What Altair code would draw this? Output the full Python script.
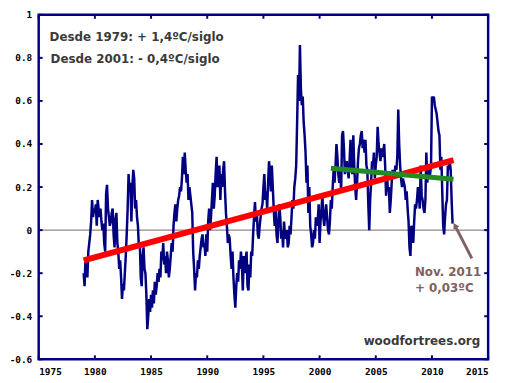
import altair as alt
import pandas as pd

# RSS-style monthly anomalies (ºC), Jan 1979 .. Nov 2011
anom_1979_1988 = [
    -0.20, -0.26, -0.13, -0.16, -0.22, -0.10, -0.06, -0.02, 0.04, 0.14, 0.06, 0.10,
    0.08, 0.12, 0.02, 0.14, 0.10, 0.06, 0.10, 0.04, 0.00, 0.03, -0.06, -0.10,
    0.17, 0.21, 0.10, 0.06, 0.02, 0.04, 0.08, 0.10, -0.02, -0.08, 0.05, 0.08,
    -0.06, -0.10, -0.18, -0.14, -0.22, -0.32, -0.25, -0.28, -0.20, -0.12, -0.02, 0.10,
    0.26, 0.18, 0.22, 0.04, 0.20, 0.28, 0.24, 0.10, 0.14, 0.06, 0.02, -0.08,
    -0.06, -0.22, -0.26, -0.12, -0.08, -0.18, -0.20, -0.30, -0.46, -0.40, -0.32, -0.38,
    -0.30, -0.36, -0.28, -0.34, -0.24, -0.30, -0.26, -0.20, -0.24, -0.18, -0.22, -0.10,
    -0.14, -0.06, -0.16, -0.12, -0.20, -0.10, -0.14, -0.22, -0.18, -0.12, -0.06, -0.10,
    0.02, 0.08, 0.12, 0.04, 0.10, 0.14, 0.16, 0.20, 0.18, 0.24, 0.34, 0.26,
    0.36, 0.28, 0.22, 0.26, 0.14, 0.20, 0.16, 0.12, 0.08, -0.10, -0.18, -0.28,
]
anom_1989_1998 = [
    -0.20, -0.22, -0.14, -0.18, -0.12, -0.08, -0.04, -0.02, -0.08, -0.06, -0.12, -0.02,
    -0.10, 0.04, 0.10, 0.00, 0.06, 0.14, 0.22, 0.10, 0.16, 0.26, 0.34, 0.20,
    0.22, 0.30, 0.14, 0.26, 0.20, 0.28, 0.32, 0.18, 0.08, 0.02, -0.06, -0.02,
    -0.04, -0.12, -0.18, -0.10, -0.22, -0.30, -0.36, -0.26, -0.20, -0.24, -0.14, -0.18,
    -0.10, -0.16, -0.28, -0.12, -0.20, -0.14, -0.10, -0.26, -0.28, -0.16, -0.22, -0.10,
    -0.12, -0.02, 0.06, 0.13, 0.04, 0.08, -0.02, -0.04, 0.02, 0.06, 0.10, 0.12,
    0.20, 0.26, 0.14, 0.18, 0.10, 0.22, 0.32, 0.26, 0.18, 0.30, 0.20, 0.10,
    0.02, 0.10, -0.02, -0.06, 0.04, 0.12, 0.06, -0.04, 0.00, -0.08, 0.04, -0.02,
    -0.04, 0.00, -0.08, -0.06, 0.02, -0.02, 0.06, 0.14, 0.10, 0.20, 0.24, 0.30,
    0.50, 0.72, 0.60, 0.86, 0.66, 0.58, 0.62, 0.50, 0.44, 0.36, 0.22, 0.30,
]
anom_1999_2011 = [
    0.08, 0.20, 0.02, -0.02, -0.08, -0.06, 0.00, -0.04, 0.06, 0.02, 0.04, 0.12,
    -0.06, 0.04, 0.10, 0.16, 0.06, 0.02, 0.08, 0.12, 0.06, 0.00, -0.02, 0.04,
    0.14, 0.10, 0.20, 0.28, 0.22, 0.30, 0.40, 0.34, 0.26, 0.22, 0.28, 0.18,
    0.44, 0.46, 0.38, 0.26, 0.30, 0.32, 0.28, 0.24, 0.32, 0.42, 0.30, 0.26,
    0.44, 0.30, 0.20, 0.14, 0.22, 0.32, 0.38, 0.40, 0.44, 0.46, 0.38, 0.42,
    0.36, 0.42, 0.30, 0.28, 0.12, 0.00, 0.14, 0.22, 0.32, 0.30, 0.36, 0.24,
    0.30, 0.34, 0.48, 0.40, 0.36, 0.32, 0.38, 0.34, 0.36, 0.40, 0.30, 0.16,
    0.26, 0.18, 0.20, 0.08, 0.14, 0.22, 0.28, 0.24, 0.26, 0.30, 0.28, 0.34,
    0.56, 0.40, 0.30, 0.24, 0.20, 0.24, 0.22, 0.20, 0.14, 0.18, 0.10, 0.04,
    -0.08, -0.12, 0.02, 0.00, -0.06, 0.04, 0.12, 0.10, 0.14, 0.20, 0.16, 0.10,
    0.30, 0.16, 0.14, 0.10, 0.08, 0.14, 0.36, 0.22, 0.30, 0.24, 0.26, 0.30,
    0.62, 0.60, 0.62, 0.58, 0.56, 0.54, 0.50, 0.46, 0.44, 0.28, 0.34, 0.18,
    0.02, -0.02, 0.06, 0.12, 0.14, 0.30, 0.28, 0.32, 0.28, 0.14, 0.03,
]
start_year = 1979

# trend lines (endpoints)
trend79_x = [1979.0, 2011.92]
trend79_y = [-0.14, 0.325]
trend01_x = [2001.0, 2011.92]
trend01_y = [0.287, 0.236]

# arrow pointing to Nov 2011
arrow_x = [2013.55, 2012.05]
arrow_y = [-0.131, 0.021]

x_ticks = [1975, 1980, 1985, 1990, 1995, 2000, 2005, 2010, 2015]
y_ticks = [-0.6, -0.4, -0.2, 0, 0.2, 0.4, 0.6, 0.8, 1]

note1 = "Desde 1979: + 1,4ºC/siglo"
note2 = "Desde 2001: - 0,4ºC/siglo"
ann1 = "Nov. 2011"
ann2 = "+ 0,03ºC"
credit = "woodfortrees.org"

W, H = 454, 348
NAVY = "#000080"
BROWN = "#806060"
GREY = "#3a3a3a"

vals = anom_1979_1988 + anom_1989_1998 + anom_1999_2011
df = pd.DataFrame({"t": [start_year + i / 12 for i in range(len(vals))], "v": vals})

ylab = ("datum.value == 0 ? '0' : datum.value == 1 ? '1' : "
        "(datum.value < 0 ? '-' : '') + format(abs(datum.value), '.1f')")

main = alt.Chart(df).mark_line(color=NAVY, strokeWidth=2.5, strokeJoin="miter").encode(
    x=alt.X("t:Q", scale=alt.Scale(domain=[1975, 2015], nice=False, zero=False),
            axis=alt.Axis(values=x_ticks, format="d", title=None, domain=False, ticks=False,
                          grid=False, labelFont="DejaVu Sans Mono", labelFontWeight="bold",
                          labelFontSize=9.5, labelColor="black", labelPadding=7)),
    y=alt.Y("v:Q", scale=alt.Scale(domain=[-0.6, 1], nice=False, zero=False),
            axis=alt.Axis(values=y_ticks, labelExpr=ylab, title=None, domain=False, ticks=False,
                          grid=False, labelFont="DejaVu Sans Mono", labelFontWeight="bold",
                          labelFontSize=9.5, labelColor="black", labelPadding=7)),
)

zero = alt.Chart(pd.DataFrame({"v": [0]})).mark_rule(color=BROWN, strokeWidth=1).encode(
    y=alt.Y("v:Q", title=None))

t79 = alt.Chart(pd.DataFrame({"t": trend79_x, "v": trend79_y})).mark_line(
    color="#ff0000", strokeWidth=6, strokeCap="butt").encode(
    x=alt.X("t:Q", title=None), y=alt.Y("v:Q", title=None))
t01 = alt.Chart(pd.DataFrame({"t": trend01_x, "v": trend01_y})).mark_line(
    color="#228b22", strokeWidth=5, strokeCap="butt").encode(
    x=alt.X("t:Q", title=None), y=alt.Y("v:Q", title=None))

arrow = alt.Chart(pd.DataFrame({"t": arrow_x, "v": arrow_y})).mark_line(
    color=BROWN, strokeWidth=3, strokeCap="butt").encode(
    x=alt.X("t:Q", title=None), y=alt.Y("v:Q", title=None))
head = alt.Chart(pd.DataFrame({"t": arrow_x[1:], "v": arrow_y[1:]})).mark_point(
    shape="triangle-up", filled=True, color=BROWN, opacity=1, size=45, angle=331).encode(
    x=alt.X("t:Q", title=None), y=alt.Y("v:Q", title=None))

xt = pd.DataFrame({"x": x_ticks})
yt = pd.DataFrame({"y": y_ticks})
tb = alt.Chart(xt).mark_rule(color=NAVY, strokeWidth=2).encode(
    x=alt.X("x:Q", title=None), y=alt.value(H), y2=alt.value(H - 4))
tt = alt.Chart(xt).mark_rule(color=NAVY, strokeWidth=2).encode(
    x=alt.X("x:Q", title=None), y=alt.value(0), y2=alt.value(4))
tl = alt.Chart(yt).mark_rule(color=NAVY, strokeWidth=2).encode(
    y=alt.Y("y:Q", title=None), x=alt.value(0), x2=alt.value(4))
tr = alt.Chart(yt).mark_rule(color=NAVY, strokeWidth=2).encode(
    y=alt.Y("y:Q", title=None), x=alt.value(W), x2=alt.value(W - 4))

def label(txt, x, y, color, align="left"):
    return alt.Chart(pd.DataFrame({"s": [txt]})).mark_text(
        font="DejaVu Sans", fontWeight="bold", fontSize=12, color=color,
        align=align, baseline="alphabetic").encode(
        text="s:N", x=alt.value(x), y=alt.value(y))

texts = (label(note1, 11, 26, GREY) + label(note2, 12, 49, GREY)
         + label(ann1, 380, 264, BROWN) + label(ann2, 380, 280, BROWN)
         + label(credit, 446, 334, GREY, align="right"))

chart = alt.layer(zero, main, t79, t01, arrow, head, tb, tt, tl, tr, texts).properties(
    width=W, height=H,
    autosize=alt.AutoSizeParams(type="none"),
    padding={"left": 31, "top": 5, "right": 14, "bottom": 15},
    background="white",
).configure_view(stroke=NAVY, strokeWidth=2.5)

chart.save("out.html", embed_options={"renderer": "svg", "actions": False})
